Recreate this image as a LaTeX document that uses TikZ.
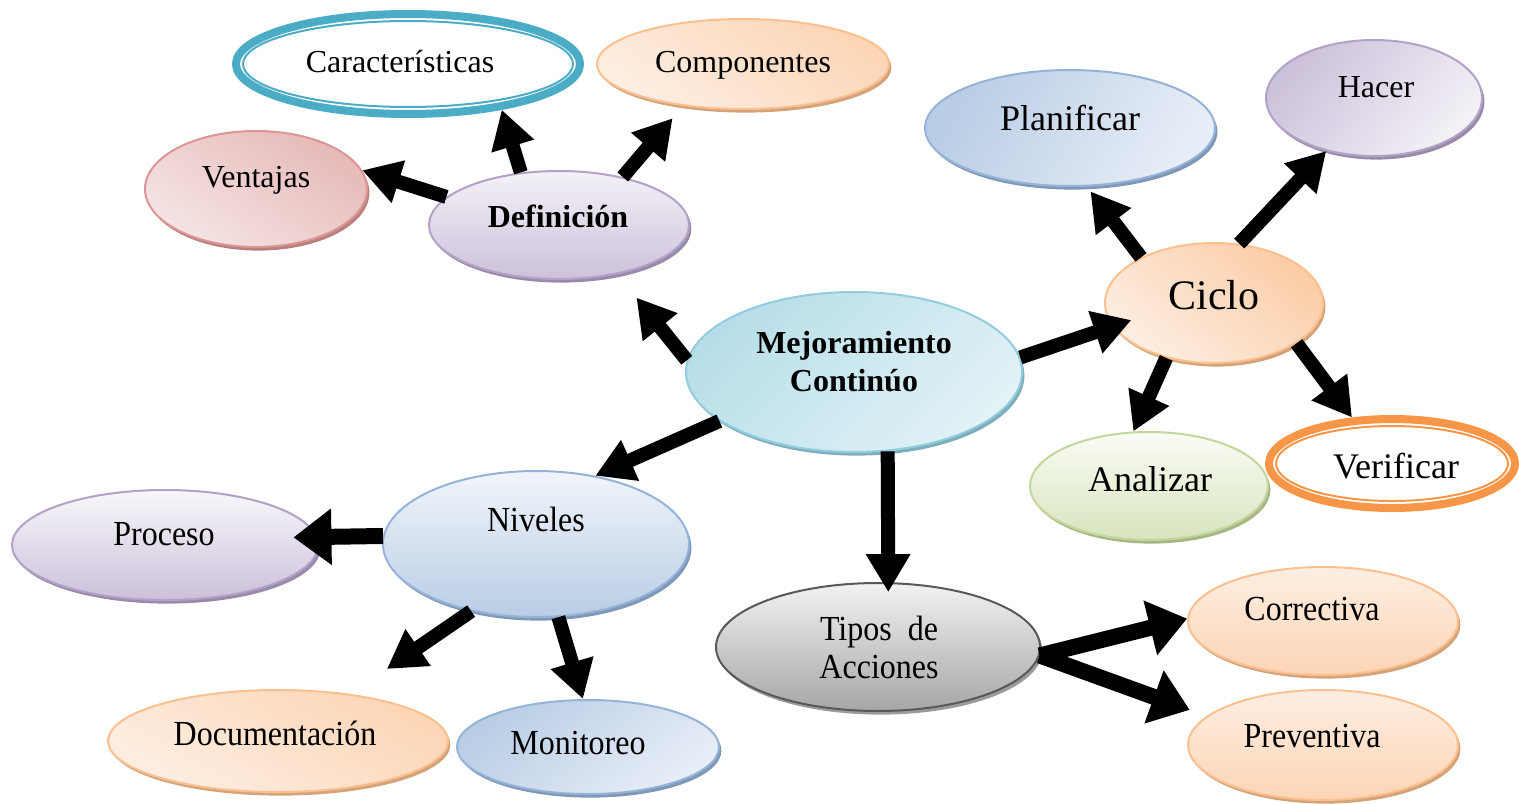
\documentclass[tikz,border=0pt]{standalone}
\usepackage{fontspec}
\setmainfont{Liberation Serif}
\usetikzlibrary{arrows.meta,shapes.geometric,shadows}

% Office-style theme colours: border, darker fill, lighter fill
\definecolor{blueB}{HTML}{95B3D7}\definecolor{blueD}{HTML}{B9CDE5}\definecolor{blueL}{HTML}{E8EEF7}
\definecolor{redB}{HTML}{D99694}\definecolor{redD}{HTML}{E6B9B8}\definecolor{redL}{HTML}{F5E4E4}
\definecolor{greenB}{HTML}{C3D69B}\definecolor{greenD}{HTML}{D7E4BD}\definecolor{greenL}{HTML}{FAFCF6}
\definecolor{purB}{HTML}{B3A2C7}\definecolor{purD}{HTML}{CCC1DA}\definecolor{purL}{HTML}{F4F1F7}
\definecolor{aquaB}{HTML}{93CDDD}\definecolor{aquaD}{HTML}{B7DEE8}\definecolor{aquaL}{HTML}{E2F2F6}
\definecolor{orB}{HTML}{FAC090}\definecolor{orD}{HTML}{FCD5B5}\definecolor{orL}{HTML}{FDEEE2}
\definecolor{grayB}{HTML}{595959}\definecolor{grayD}{HTML}{A6A6A6}\definecolor{grayL}{HTML}{F2F2F2}
\definecolor{tealR}{HTML}{4BACC6}\definecolor{orangeR}{HTML}{F79646}

\newcommand{\tallt}[1]{\scalebox{1}[1.1]{#1}}

\begin{document}
\begin{tikzpicture}[x=0.5pt,y=-0.5pt,
  bubble/.style={ellipse, draw, line width=1pt, inner sep=0pt},
  sz/.style 2 args={minimum width=#1pt, minimum height=#2pt},
  bshadow/.style={drop shadow={shadow xshift=1.2pt, shadow yshift=-1.8pt, fill=#1, opacity=1}},
  ring/.style={ellipse, draw, inner sep=0pt},
  lbl/.style={anchor=base, inner sep=0pt, font=\fontsize{16}{19}\selectfont},
  big/.style={anchor=base, inner sep=0pt, font=\fontsize{18}{22}\selectfont},
  arr/.style={line width=7pt, -{Triangle[length=19pt,width=21pt]}},
  wide/.style={line width=8pt, -{Triangle[length=19pt,width=27pt]}}]
\useasboundingbox (0,0) rectangle (1519,803);

% ---------- bubbles ----------
\node[ring, draw=tealR, line width=4pt, fill=white, sz={172}{50}] (car) at (408,64) {};
\node[ring, draw=tealR, line width=1pt, sz={165}{43}] (carin) at (408,64) {};
\node[bubble, sz={146}{45}, draw=orB, bshadow=orB!85!black, top color=orD, bottom color=orL, shading angle=-35] (comp) at (743,64) {};
\node[bubble, sz={111}{58}, draw=redB, bshadow=redB!85!black, top color=redD, bottom color=redL, shading angle=-35] (vent) at (256,189) {};
\node[bubble, sz={130}{54}, draw=purB, bshadow=purB!85!black, top color=purL, bottom color=purD] (def) at (559,225) {};
\node[bubble, sz={145}{58}, draw=blueB, bshadow=blueB!85!black, top color=blueD, bottom color=blueL, shading angle=60] (plan) at (1070,128) {};
\node[bubble, sz={108}{58}, draw=purB, bshadow=purB!85!black, top color=purD, bottom color=purL, shading angle=50] (hacer) at (1374,98) {};
\node[bubble, sz={109}{60}, draw=orB, bshadow=orB!85!black, top color=orB!80!white, bottom color=orL, shading angle=-40] (ciclo) at (1214,303) {};
\node[bubble, sz={168}{80}, draw=aquaB, bshadow=aquaB!85!black, top color=aquaD, bottom color=aquaL, shading angle=45] (mej) at (854,372) {};
\node[bubble, sz={119}{54}, draw=greenB, bshadow=greenB!85!black, top color=greenL, bottom color=greenD] (anal) at (1149,486) {};
\node[ring, draw=orangeR, line width=4pt, fill=white, sz={123}{44.5}] (verif) at (1392,463.5) {};
\node[ring, draw=orangeR, line width=1pt, sz={116}{37.5}] (verifin) at (1392,463.5) {};
\node[bubble, sz={153}{73}, draw=blueB, bshadow=blueB!85!black, top color=blueL!60!white, bottom color=blueD] (niv) at (536,544) {};
\node[bubble, sz={153}{55}, draw=purB, bshadow=purB!85!black, top color=purL!60!white, bottom color=purD] (proc) at (165,545) {};
\node[bubble, sz={170}{51}, draw=orB, bshadow=orB!85!black, top color=orD, bottom color=orL, shading angle=-30] (doc) at (278,741) {};
\node[bubble, sz={131}{47}, draw=blueB, bshadow=blueB!85!black, top color=blueD, bottom color=blueL, shading angle=40] (mon) at (588,747) {};
\node[bubble, sz={162}{64}, draw=grayB, bshadow=grayB!60!white, top color=grayL, bottom color=grayD] (tipos) at (878,647) {};
\node[bubble, sz={135}{54}, draw=orB, bshadow=orB!85!black, top color=orL, bottom color=orD] (corr) at (1323,621) {};
\node[bubble, sz={135}{55}, draw=orB, bshadow=orB!85!black, top color=orL, bottom color=orD] (prev) at (1323,745) {};

% ---------- labels ----------
\node[lbl] (car-t) at (400,72) {Características};
\node[lbl] (comp-t) at (743,72) {Componentes};
\node[lbl] (vent-t) at (256,187) {Ventajas};
\node[lbl, font=\fontsize{16}{19}\selectfont\bfseries] (def-t) at (558,227) {Definición};
\node[big] (plan-t) at (1070,130) {Planificar};
\node[lbl] (hacer-t) at (1376,97) {Hacer};
\node[anchor=base, inner sep=0pt, font=\fontsize{21}{25}\selectfont] (ciclo-t) at (1214,309) {Ciclo};
\node[inner sep=0pt, align=center, font=\fontsize{16}{19}\selectfont\bfseries] (mej-t) at (854,362) {Mejoramiento\\Continúo};
\node[big] (anal-t) at (1150,491) {Analizar};
\node[big] (verif-t) at (1396,478) {Verificar};
\node[lbl] (niv-t) at (536,531) {\tallt{Niveles}};
\node[lbl] (proc-t) at (164,545) {\tallt{Proceso}};
\node[lbl] (doc-t) at (275,745) {\tallt{Documentación}};
\node[lbl] (mon-t) at (578,754) {\tallt{Monitoreo}};
\node[inner sep=0pt, align=center, font=\fontsize{16}{19}\selectfont] (tipos-t) at (879,647) {\tallt{Tipos~ de}\\\tallt{Acciones}};
\node[lbl] (corr-t) at (1312,620) {\tallt{Correctiva}};
\node[lbl] (prev-t) at (1312,747) {\tallt{Preventiva}};

% ---------- connectors ----------
\draw[arr] (def.126.7) -- (car.-26.3);
\draw[arr, shorten >=8pt] (def.37.5) -- (comp.-145);
\draw[arr] (def.166) -- (vent.10);
\draw[arr, shorten >=15pt] (mej.176) -- (def.-40);
\draw[arr, shorten >=-10pt] (mej.5) -- (ciclo.193);
\draw[arr, shorten >=3pt] (ciclo.148) -- (plan.-74.5);
\draw[arr] (ciclo.67) -- (hacer.228.5);
\draw[arr] (ciclo.229) -- (anal.106.5);
\draw[arr] (ciclo.-26.6) -- (verif.131.7);
\draw[arr] (mej.200) -- (niv.49.3);
\draw[arr, shorten >=-5pt] (mej.-67) -- (tipos.81);
\draw[arr, wide, shorten >=-12pt] (niv.177.4) -- (proc.3.6);
\draw[arr, shorten >=22pt] (niv.226) -- (doc.33.6);
\draw[arr] (niv.-73.5) -- (mon.96);
\draw[arr, wide] (tipos.-3) -- (corr.179.6);
\draw[arr, wide, shorten >=9pt] (tipos.-3) -- (prev.166);
\end{tikzpicture}
\end{document}
